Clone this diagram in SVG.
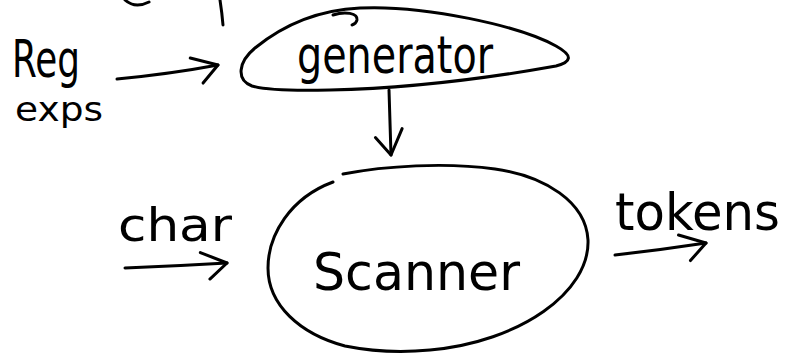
<svg xmlns="http://www.w3.org/2000/svg" width="786" height="353" viewBox="0 0 786 353">
  <defs>
    <style>
      .ink { fill: none; stroke: #000; stroke-width: 3; stroke-linecap: round; stroke-linejoin: round; }
      .hand { font-family: "DejaVu Sans", "Liberation Sans", sans-serif; fill: #000; }
    </style>
    <marker id="head" markerUnits="userSpaceOnUse" markerWidth="60" markerHeight="60" refX="0" refY="0" viewBox="-30 -30 60 60" orient="auto" overflow="visible">
      <path d="M-26,-12 L0,0 L-18,15" fill="none" stroke="#000" stroke-width="3" stroke-linecap="round" stroke-linejoin="round"/>
    </marker>
  </defs>
  <rect width="786" height="353" fill="#fff"/>

  <!-- strokes of a line cut off at the top edge -->
  <g id="top-strokes">
    <path class="ink" d="M125,0 Q135,9 149,2"/>
    <path class="ink" d="M220,0 Q222,13 223,25" stroke-width="4"/>
  </g>

  <g id="regexps">
    <text class="hand" x="12" y="77" font-size="52" textLength="68" lengthAdjust="spacingAndGlyphs">Reg</text>
    <text class="hand" x="15" y="121" font-size="34" textLength="88" lengthAdjust="spacingAndGlyphs">exps</text>
  </g>

  <g id="generator">
    <path class="ink" d="M252,86 C236,80 238,62 255,48 C282,26 318,10 360,8 C425,5 520,26 556,46 C574,56 571,62 556,66 C500,76 420,88 330,90 C292,91 266,90 252,86 Z"/>
    <path class="ink" d="M333,15 C345,11 358,13 357,20 Q356,24 352,25"/>
    <text class="hand" x="297" y="73" font-size="52" textLength="196" lengthAdjust="spacingAndGlyphs">generator</text>
  </g>

  <g id="scanner">
    <path class="ink" d="M343,174 C385,166 445,162 495,169 C545,176 586,202 588,240 C590,292 520,342 430,350 C400,353 370,351 345,346 C300,334 268,305 268,268 C268,235 290,198 333,182"/>
    <text class="hand" x="313" y="290" font-size="52" textLength="207" lengthAdjust="spacingAndGlyphs">Scanner</text>
  </g>

  <g id="char">
    <text class="hand" x="118" y="241" font-size="46" textLength="114" lengthAdjust="spacingAndGlyphs">char</text>
  </g>

  <g id="tokens">
    <text class="hand" x="615" y="230" font-size="52" textLength="165" lengthAdjust="spacingAndGlyphs">tokens</text>
  </g>

  <g id="connectors">
    <path class="ink" d="M117,79 Q170,74 218,65" marker-end="url(#head)"/>
    <path class="ink" d="M389,90 Q390,125 391,155" marker-end="url(#head)"/>
    <path class="ink" d="M125,268 Q176,266 227,263" marker-end="url(#head)"/>
    <path class="ink" d="M615,255 Q660,250 706,243" marker-end="url(#head)"/>
  </g>
</svg>
